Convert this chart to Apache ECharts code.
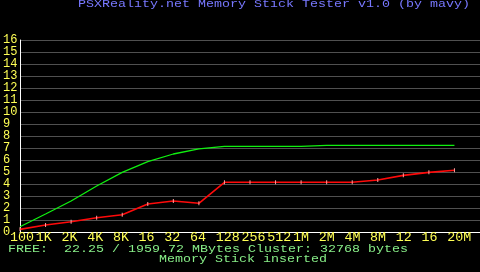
<!DOCTYPE html>
<html><head><meta charset="utf-8">
<script src="https://cdn.jsdelivr.net/npm/echarts@6/dist/echarts.min.js"></script>
<style>html,body{margin:0;padding:0;background:#000;}#c{width:480px;height:272px;}</style>
</head><body><div id="c"></div>
<script>
const categories = ['100','1K','2K','4K','8K','16','32','64','128','256','512','1M','2M','4M','8M','12','16','20M'];
const writeSpeed = [0.44,1.5,2.58,3.83,4.97,5.86,6.5,6.92,7.14,7.14,7.14,7.14,7.22,7.22,7.22,7.22,7.22,7.22];
const readSpeed = [0.22,0.58,0.86,1.19,1.44,2.33,2.58,2.39,4.14,4.14,4.14,4.14,4.14,4.14,4.33,4.72,4.97,5.14];
const yTicks = [0,1,2,3,4,5,6,7,8,9,10,11,12,13,14,15,16];
const titleText = 'PSXReality.net Memory Stick Tester v1.0 (by mavy)';
const freeText = 'FREE:  22.25 / 1959.72 MBytes Cluster: 32768 bytes';
const statusText = 'Memory Stick inserted';

const FONT = '"Liberation Mono", "DejaVu Sans Mono", monospace';
const axisCats = categories.concat(['']);
const chart = echarts.init(document.getElementById('c'), null, {renderer:'canvas'});
chart.setOption({
  backgroundColor: '#000',
  animation: false,
  grid: [
    {left: 17, right: 0, top: 40, bottom: 40},
    {left: 10, right: 7, top: 40, bottom: 40}
  ],
  xAxis: [
    {type: 'category', gridIndex: 0, data: axisCats, boundaryGap: false,
     axisLine: {show: true, lineStyle: {color: '#ffffff', width: 1}},
     axisTick: {show: false}, axisLabel: {show: false}, splitLine: {show: false}},
    {type: 'category', gridIndex: 1, data: axisCats, boundaryGap: false,
     axisLine: {show: false}, axisTick: {show: false}, splitLine: {show: false},
     axisLabel: {show: true, interval: 0, hideOverlap: false, align: 'left', margin: 0, color: '#ffff55',
       fontFamily: FONT, fontSize: 13.33, lineHeight: 10, verticalAlign: 'top'}}
  ],
  yAxis: [
    {type: 'value', gridIndex: 0, min: yTicks[0], max: yTicks[yTicks.length-1], interval: 1,
     axisLine: {show: true, lineStyle: {color: '#ffffff', width: 1}},
     axisTick: {show: false},
     splitLine: {show: true, lineStyle: {color: '#505050', width: 1}},
     axisLabel: {show: true, hideOverlap: false, align: 'left', margin: 17, color: '#ffff55',
       fontFamily: FONT, fontSize: 12, lineHeight: 9, showMaxLabel: true, showMinLabel: true}},
    {type: 'value', gridIndex: 1, min: 0, max: 1, show: false}
  ],
  series: [
    {type: 'line', xAxisIndex: 0, yAxisIndex: 0, data: writeSpeed,
     lineStyle: {color: '#10f010', width: 1.3}, showSymbol: false, symbol: 'none', z: 3},
    {type: 'line', xAxisIndex: 0, yAxisIndex: 0, data: readSpeed,
     lineStyle: {color: '#ff0a0a', width: 1.6}, itemStyle: {color: '#ffa0a0'},
     symbol: 'rect', symbolSize: [1, 4], showSymbol: true, z: 4}
  ],
  graphic: [
    {type: 'text', x: 78, y: 4, scaleY: 0.85, style: {text: titleText, fill: '#7878ff', font: '13.33px ' + FONT, verticalAlign: 'middle', align: 'left'}},
    {type: 'text', x: 8, y: 249.5, scaleY: 0.85, style: {text: freeText, fill: '#88ee88', font: '13.33px ' + FONT, verticalAlign: 'middle', align: 'left'}},
    {type: 'text', x: 159, y: 259.5, scaleY: 0.85, style: {text: statusText, fill: '#88ee88', font: '13.33px ' + FONT, verticalAlign: 'middle', align: 'left'}}
  ]
});
</script></body></html>
